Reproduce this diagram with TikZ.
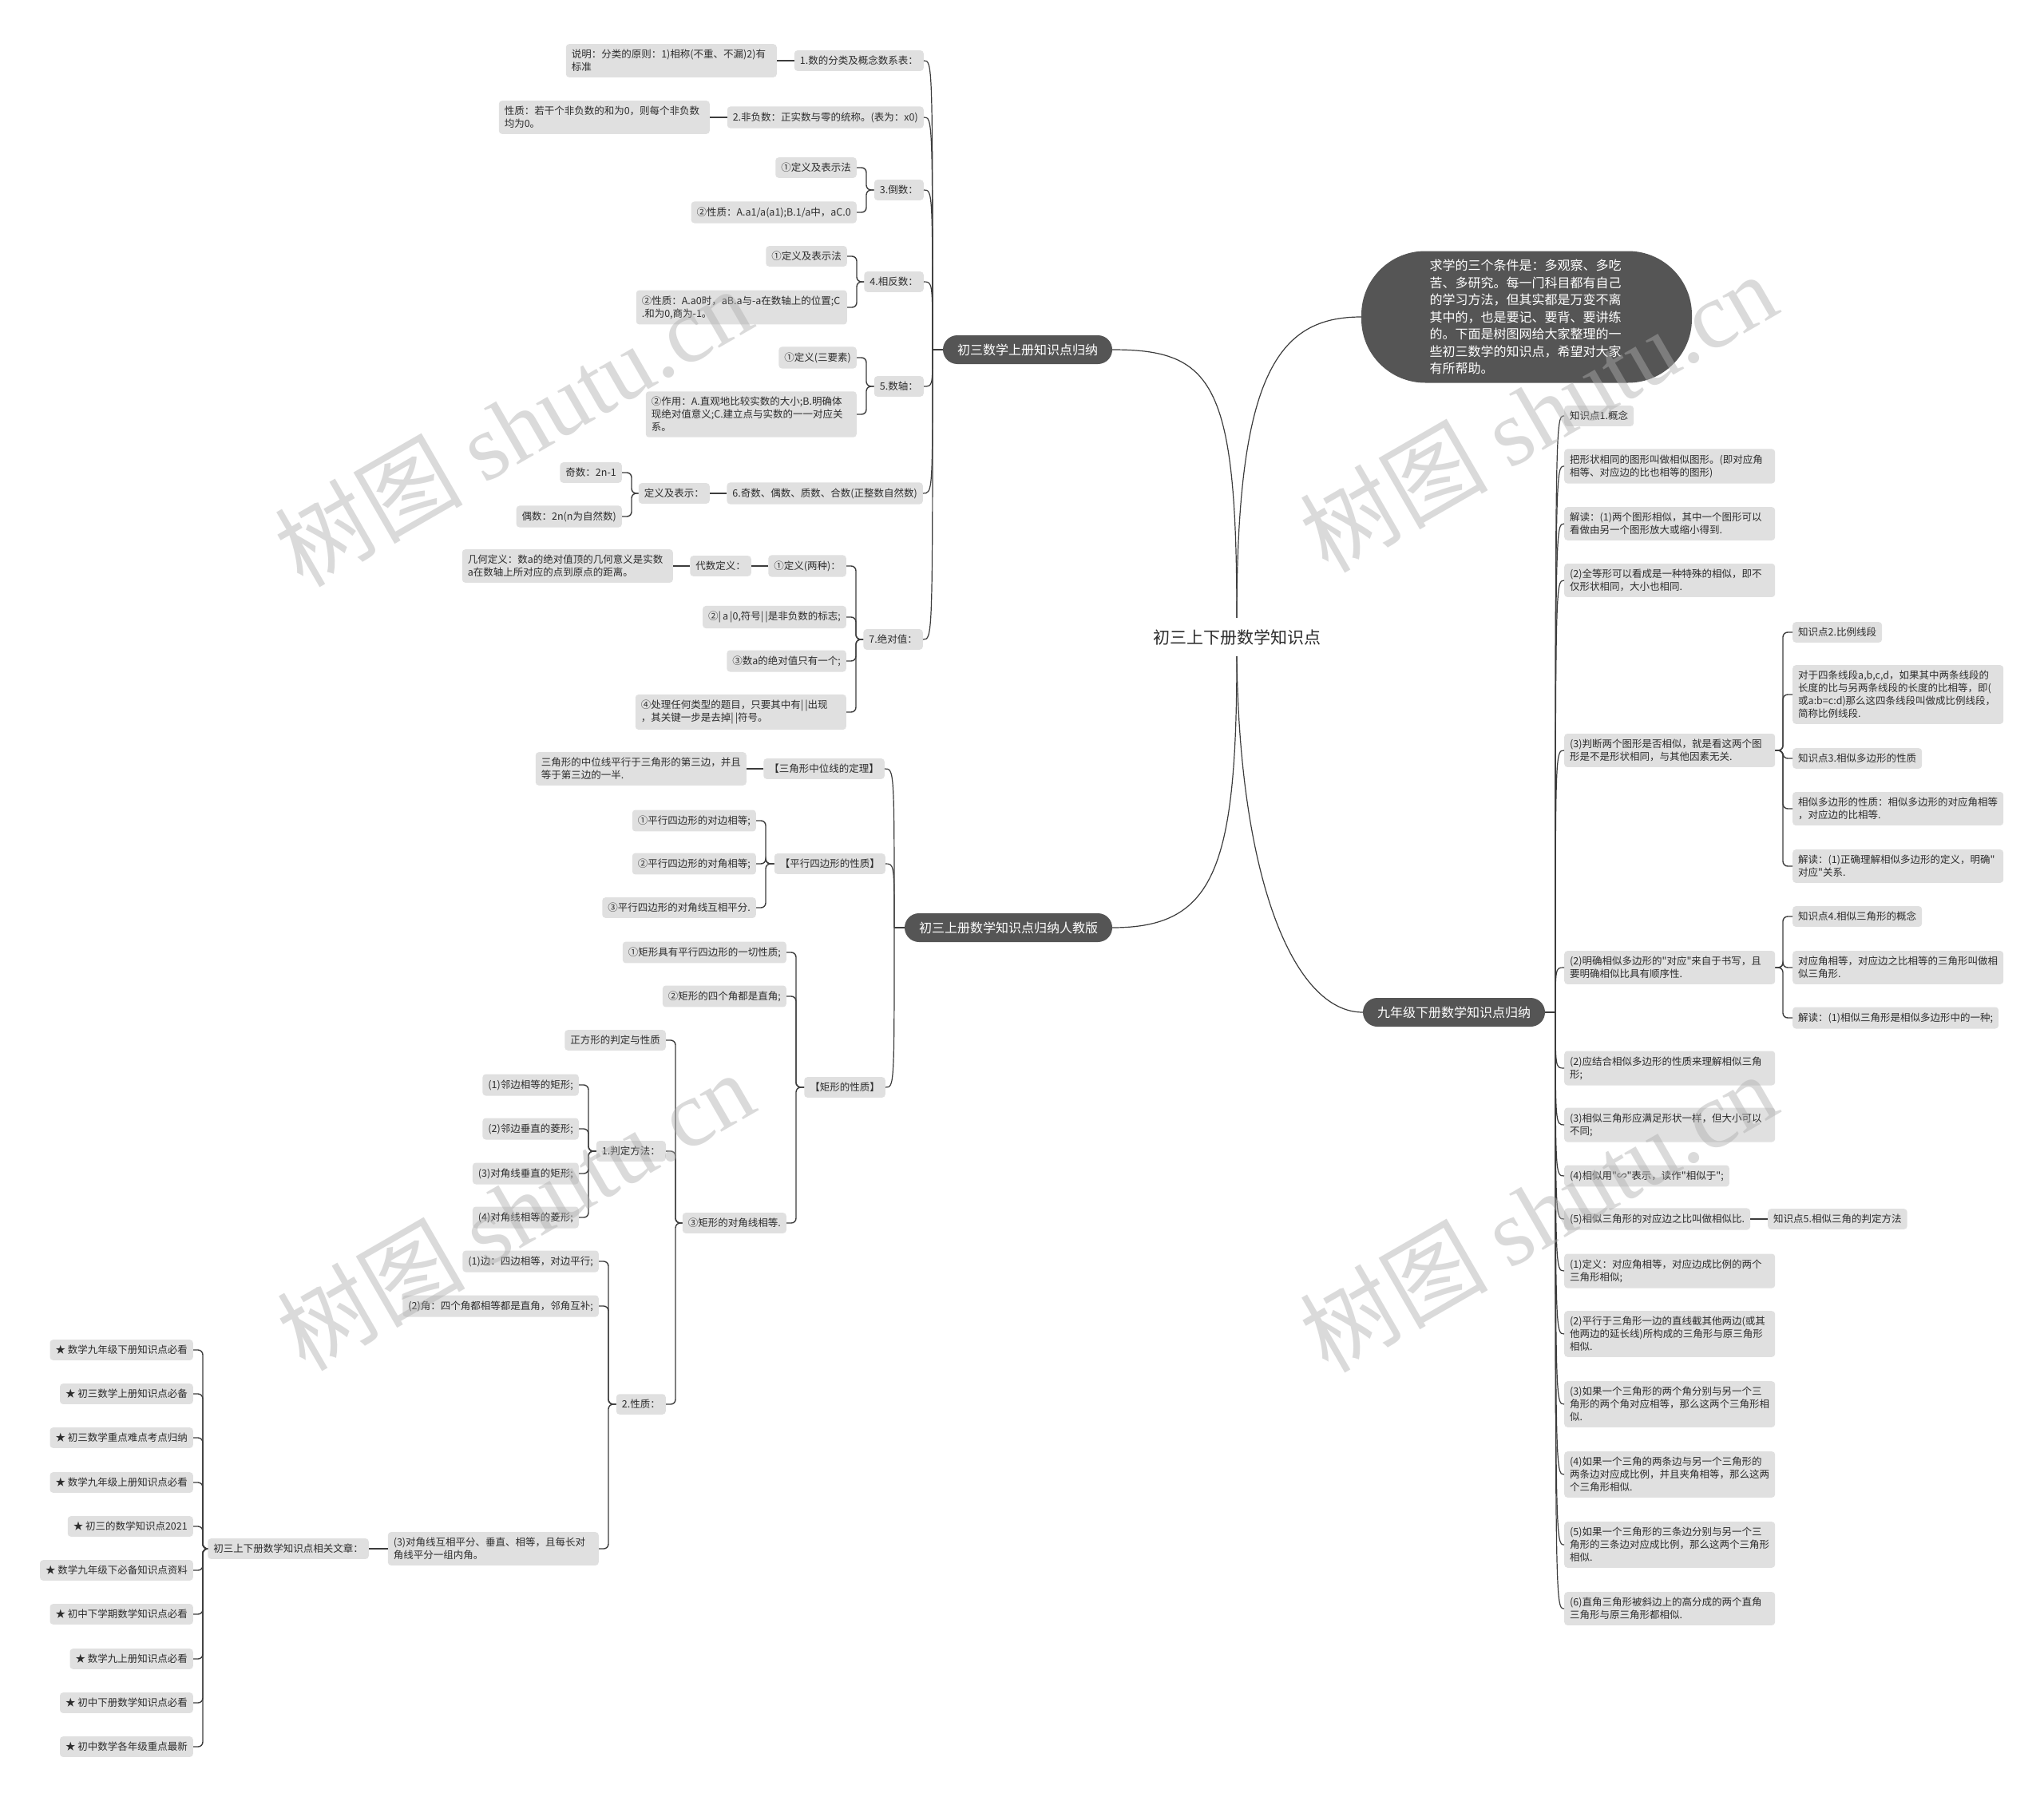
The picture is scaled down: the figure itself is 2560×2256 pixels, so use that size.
\documentclass[tikz,border=0pt]{standalone}
\usepackage{fontspec}
\setmainfont{Noto Sans CJK SC}[Ligatures=TeXOff]
\newfontfamily\wmlatin{Liberation Serif}
\definecolor{boxg}{RGB}{224,224,224}
\definecolor{pillg}{RGB}{85,85,85}
\definecolor{txt}{RGB}{45,45,45}
\definecolor{linec}{RGB}{60,60,60}
\definecolor{wmc}{RGB}{174,174,174}
\tikzset{
  leaf/.style={fill=boxg, rounded corners=4pt, inner xsep=7pt, inner ysep=7pt,
    font=\fontsize{12.5}{16}\selectfont, text=txt, align=left},
  leafw/.style={leaf, text width=250pt},
  pill/.style={fill=pillg, text=white, font=\fontsize{16}{20}\selectfont,
    rounded corners=18pt, inner xsep=18pt, minimum height=36pt},
  intro/.style={fill=pillg, text=white, font=\fontsize{16}{21.5}\selectfont,
    rounded corners=80pt, minimum width=414pt, minimum height=165pt,
    text width=243pt, align=left},
  conn/.style={draw=linec, line width=1.4pt, rounded corners=6pt},
  curve/.style={draw=linec, line width=1.2pt},
  wm/.style={text=wmc, opacity=0.45, font=\fontsize{118}{118}\selectfont, rotate=30}
}
\newcommand{\connLft}[2]{\draw[conn] (#2.east) -- ++(12,0) |- (#1.west);}
\newcommand{\connRgt}[2]{\draw[conn] (#2.west) -- ++(-12,0) |- (#1.east);}
\newcommand{\connStrL}[2]{\draw[conn] (#1.west) -- (#2.east);}
\newcommand{\connStrR}[2]{\draw[conn] (#1.east) -- (#2.west);}
\newcommand{\mainLft}[2]{\draw[curve] (#1) .. controls (#1 |- #2.east) .. (#2.east);}
\newcommand{\mainRgt}[2]{\draw[curve] (#1) .. controls (#1 |- #2.west) .. (#2.west);}
\begin{document}
\begin{tikzpicture}[x=1pt,y=-1pt]
\fill[white] (0,0) rectangle (2560,2256);
\useasboundingbox (0,0) rectangle (2560,2256);

% centre
\node[font=\fontsize{21}{24}\selectfont, text=txt, inner ysep=14pt] (C) at (1549,798) {初三上下册数学知识点};

% intro bubble
\node[intro] (intro) at (1912,397) {求学的三个条件是：多观察、多吃\\苦、多研究。每一门科目都有自己\\的学习方法，但其实都是万变不离\\其中的，也是要记、要背、要讲练\\的。下面是树图网给大家整理的一\\些初三数学的知识点，希望对大家\\有所帮助。};

% ---------------- branch 1 ----------------
\node[pill] (B1) at (1287,438) {初三数学上册知识点归纳};
\node[leaf,anchor=east] (a1) at (1157,76) {1.数的分类及概念数系表：};
\node[leafw,anchor=east] (a1a) at (973,76) {说明：分类的原则：1)相称(不重、不漏)2)有\\标准};
\node[leaf,anchor=east] (a2) at (1157,147) {2.非负数：正实数与零的统称。(表为：x0)};
\node[leafw,anchor=east] (a2a) at (889,147) {性质：若干个非负数的和为0，则每个非负数\\均为0。};
\node[leaf,anchor=east] (a3) at (1157,238) {3.倒数：};
\node[leaf,anchor=east] (a3a) at (1073,210) {①定义及表示法};
\node[leaf,anchor=east] (a3b) at (1073,266) {②性质：A.a1/a(a1);B.1/a中，aC.0};
\node[leaf,anchor=east] (a4) at (1157,353) {4.相反数：};
\node[leaf,anchor=east] (a4a) at (1061,321) {①定义及表示法};
\node[leafw,anchor=east] (a4b) at (1061,385) {②性质：A.a0时，aB.a与-a在数轴上的位置;C\\.和为0,商为-1。};
\node[leaf,anchor=east] (a5) at (1157,484) {5.数轴：};
\node[leaf,anchor=east] (a5a) at (1073,448) {①定义(三要素)};
\node[leafw,anchor=east] (a5b) at (1073,519) {②作用：A.直观地比较实数的大小;B.明确体\\现绝对值意义;C.建立点与实数的一一对应关\\系。};
\node[leaf,anchor=east] (a6) at (1156,618) {6.奇数、偶数、质数、合数(正整数自然数)};
\node[leaf,anchor=east] (a6a) at (889,618) {定义及表示：};
\node[leaf,anchor=east] (a6a1) at (779,592) {奇数：2n-1};
\node[leaf,anchor=east] (a6a2) at (779,647) {偶数：2n(n为自然数)};
\node[leaf,anchor=east] (a7) at (1156,801) {7.绝对值：};
\node[leaf,anchor=east] (a7a) at (1060,709) {①定义(两种)：};
\node[leaf,anchor=east] (a7a1) at (941,709) {代数定义：};
\node[leafw,anchor=east] (a7a2) at (843,709) {几何定义：数a的绝对值顶的几何意义是实数\\a在数轴上所对应的点到原点的距离。};
\node[leaf,anchor=east] (a7b) at (1060,773) {②|\,a\,|0,符号|\,|是非负数的标志;};
\node[leaf,anchor=east] (a7c) at (1060,828) {③数a的绝对值只有一个;};
\node[leafw,anchor=east] (a7d) at (1060,892) {④处理任何类型的题目，只要其中有|\,|出现\\，其关键一步是去掉|\,|符号。};

% ---------------- branch 2 ----------------
\node[pill] (B2) at (1263,1162) {初三上册数学知识点归纳人教版};
\node[leaf,anchor=east] (b1) at (1108,963) {【三角形中位线的定理】};
\node[leafw,anchor=east] (b1a) at (935,963) {三角形的中位线平行于三角形的第三边，并且\\等于第三边的一半.};
\node[leaf,anchor=east] (b2) at (1109,1082) {【平行四边形的性质】};
\node[leaf,anchor=east] (b2a) at (947,1028) {①平行四边形的对边相等;};
\node[leaf,anchor=east] (b2b) at (947,1082) {②平行四边形的对角相等;};
\node[leaf,anchor=east] (b2c) at (947,1137) {③平行四边形的对角线互相平分.};
\node[leaf,anchor=east] (b3) at (1109,1362) {【矩形的性质】};
\node[leaf,anchor=east] (b3a) at (985,1193) {①矩形具有平行四边形的一切性质;};
\node[leaf,anchor=east] (b3b) at (985,1248) {②矩形的四个角都是直角;};
\node[leaf,anchor=east] (b3c) at (985,1532) {③矩形的对角线相等.};
\node[leaf,anchor=east] (b3c1) at (834,1303) {正方形的判定与性质};
\node[leaf,anchor=east] (b3c2) at (834,1442) {1.判定方法：};
\node[leaf,anchor=east] (p1) at (725,1359) {(1)邻边相等的矩形;};
\node[leaf,anchor=east] (p2) at (725,1414) {(2)邻边垂直的菱形;};
\node[leaf,anchor=east] (p3) at (725,1470) {(3)对角线垂直的矩形;};
\node[leaf,anchor=east] (p4) at (725,1525) {(4)对角线相等的菱形;};
\node[leaf,anchor=east] (b3c3) at (834,1759) {2.性质：};
\node[leaf,anchor=east] (q1) at (750,1580) {(1)边：四边相等，对边平行;};
\node[leaf,anchor=east] (q2) at (750,1636) {(2)角：四个角都相等都是直角，邻角互补;};
\node[leafw,anchor=east] (q3) at (750,1940) {(3)对角线互相平分、垂直、相等，且每长对\\角线平分一组内角。};
\node[leaf,anchor=east] (rel) at (462,1940) {初三上下册数学知识点相关文章：};
\node[leaf,anchor=east] (s1) at (242,1691) {★ 数学九年级下册知识点必看};
\node[leaf,anchor=east] (s2) at (242,1746) {★ 初三数学上册知识点必备};
\node[leaf,anchor=east] (s3) at (242,1801) {★ 初三数学重点难点考点归纳};
\node[leaf,anchor=east] (s4) at (242,1857) {★ 数学九年级上册知识点必看};
\node[leaf,anchor=east] (s5) at (242,1912) {★ 初三的数学知识点2021};
\node[leaf,anchor=east] (s6) at (242,1967) {★ 数学九年级下必备知识点资料};
\node[leaf,anchor=east] (s7) at (242,2022) {★ 初中下学期数学知识点必看};
\node[leaf,anchor=east] (s8) at (242,2078) {★ 数学九上册知识点必看};
\node[leaf,anchor=east] (s9) at (242,2133) {★ 初中下册数学知识点必看};
\node[leaf,anchor=east] (s10) at (242,2188) {★ 初中数学各年级重点最新};

% ---------------- branch 3 ----------------
\node[pill] (B3) at (1821,1268) {九年级下册数学知识点归纳};
\node[leaf,anchor=west] (c1) at (1959,521) {知识点1.概念};
\node[leafw,anchor=west] (c2) at (1959,584) {把形状相同的图形叫做相似图形。(即对应角\\相等、对应边的比也相等的图形)};
\node[leafw,anchor=west] (c3) at (1959,656) {解读：(1)两个图形相似，其中一个图形可以\\看做由另一个图形放大或缩小得到.};
\node[leafw,anchor=west] (c4) at (1959,727) {(2)全等形可以看成是一种特殊的相似，即不\\仅形状相同，大小也相同.};
\node[leafw,anchor=west] (c5) at (1959,940) {(3)判断两个图形是否相似，就是看这两个图\\形是不是形状相同，与其他因素无关.};
\node[leaf,anchor=west] (c5a) at (2245,792) {知识点2.比例线段};
\node[leafw,anchor=west] (c5b) at (2245,870) {对于四条线段a,b,c,d，如果其中两条线段的\\长度的比与另两条线段的长度的比相等，即(\\或a:b=c:d)那么这四条线段叫做成比例线段，\\简称比例线段.};
\node[leaf,anchor=west] (c5c) at (2245,950) {知识点3.相似多边形的性质};
\node[leafw,anchor=west] (c5d) at (2245,1013) {相似多边形的性质：相似多边形的对应角相等\\，对应边的比相等.};
\node[leafw,anchor=west] (c5e) at (2245,1085) {解读：(1)正确理解相似多边形的定义，明确"\\对应"关系.};
\node[leafw,anchor=west] (c6) at (1959,1212) {(2)明确相似多边形的"对应"来自于书写，且\\要明确相似比具有顺序性.};
\node[leaf,anchor=west] (c6a) at (2245,1148) {知识点4.相似三角形的概念};
\node[leafw,anchor=west] (c6b) at (2245,1212) {对应角相等，对应边之比相等的三角形叫做相\\似三角形.};
\node[leaf,anchor=west] (c6c) at (2245,1275) {解读：(1)相似三角形是相似多边形中的一种;};
\node[leafw,anchor=west] (c7) at (1959,1338) {(2)应结合相似多边形的性质来理解相似三角\\形;};
\node[leafw,anchor=west] (c8) at (1959,1409) {(3)相似三角形应满足形状一样，但大小可以\\不同;};
\node[leaf,anchor=west] (c9) at (1959,1473) {(4)相似用"∽"表示，读作"相似于";};
\node[leaf,anchor=west] (c10) at (1959,1527) {(5)相似三角形的对应边之比叫做相似比.};
\node[leaf,anchor=west] (c10a) at (2214,1527) {知识点5.相似三角的判定方法};
\node[leafw,anchor=west] (c11) at (1959,1592) {(1)定义：对应角相等，对应边成比例的两个\\三角形相似;};
\node[leafw,anchor=west] (c12) at (1959,1671) {(2)平行于三角形一边的直线截其他两边(或其\\他两边的延长线)所构成的三角形与原三角形\\相似.};
\node[leafw,anchor=west] (c13) at (1959,1759) {(3)如果一个三角形的两个角分别与另一个三\\角形的两个角对应相等，那么这两个三角形相\\似.};
\node[leafw,anchor=west] (c14) at (1959,1847) {(4)如果一个三角的两条边与另一个三角形的\\两条边对应成比例，并且夹角相等，那么这两\\个三角形相似.};
\node[leafw,anchor=west] (c15) at (1959,1935) {(5)如果一个三角形的三条边分别与另一个三\\角形的三条边对应成比例，那么这两个三角形\\相似.};
\node[leafw,anchor=west] (c16) at (1959,2015) {(6)直角三角形被斜边上的高分成的两个直角\\三角形与原三角形都相似.};

% ---------------- centre curves ----------------
\draw[curve] (C.north) .. controls (1549,480) and (1520,438) .. (B1.east);
\draw[curve] (C.north) .. controls (1549,470) and (1600,397) .. (intro.west);
\draw[curve] (C.south) .. controls (1549,1090) and (1520,1162) .. (B2.east);
\draw[curve] (C.south) .. controls (1552,1100) and (1620,1268) .. (B3.west);

% ---------------- branch 1 connectors ----------------
\draw[curve] (B1.west) -- (1168,438) coordinate (j1);
\foreach \n in {a1,a2,a3,a4,a5,a6,a7} {\mainLft{j1}{\n}}
\connStrL{a1}{a1a}
\connStrL{a2}{a2a}
\connLft{a3}{a3a} \connLft{a3}{a3b}
\connLft{a4}{a4a} \connLft{a4}{a4b}
\connLft{a5}{a5a} \connLft{a5}{a5b}
\connStrL{a6}{a6a}
\connLft{a6a}{a6a1} \connLft{a6a}{a6a2}
\connLft{a7}{a7a} \connLft{a7}{a7b} \connLft{a7}{a7c} \connLft{a7}{a7d}
\connStrL{a7a}{a7a1}
\connStrL{a7a1}{a7a2}

% ---------------- branch 2 connectors ----------------
\draw[curve] (B2.west) -- (1120,1162) coordinate (j2);
\foreach \n in {b1,b2,b3} {\mainLft{j2}{\n}}
\connStrL{b1}{b1a}
\connLft{b2}{b2a} \connLft{b2}{b2b} \connLft{b2}{b2c}
\connLft{b3}{b3a} \connLft{b3}{b3b} \connLft{b3}{b3c}
\connLft{b3c}{b3c1} \connLft{b3c}{b3c2} \connLft{b3c}{b3c3}
\connLft{b3c2}{p1} \connLft{b3c2}{p2} \connLft{b3c2}{p3} \connLft{b3c2}{p4}
\connLft{b3c3}{q1} \connLft{b3c3}{q2} \connLft{b3c3}{q3}
\connStrL{q3}{rel}
\foreach \n in {s1,s2,s3,s4,s5,s6,s7,s8,s9,s10} {\connLft{rel}{\n}}

% ---------------- branch 3 connectors ----------------
\draw[curve] (B3.east) -- (1948,1268) coordinate (j3);
\foreach \n in {c1,c2,c3,c4,c5,c6,c7,c8,c9,c10,c11,c12,c13,c14,c15,c16} {\mainRgt{j3}{\n}}
\connRgt{c5}{c5a} \connRgt{c5}{c5b} \connRgt{c5}{c5c} \connRgt{c5}{c5d} \connRgt{c5}{c5e}
\connRgt{c6}{c6a} \connRgt{c6}{c6b} \connRgt{c6}{c6c}
\connStrR{c10}{c10a}

% ---------------- watermarks ----------------
\node[wm] (w1) at (642,534) {树图 {\wmlatin shutu.cn}};
\node[wm] (w2) at (1926,516) {树图 {\wmlatin shutu.cn}};
\node[wm] (w3) at (645,1516) {树图 {\wmlatin shutu.cn}};
\node[wm] (w4) at (1926,1518) {树图 {\wmlatin shutu.cn}};
\end{tikzpicture}
\end{document}
